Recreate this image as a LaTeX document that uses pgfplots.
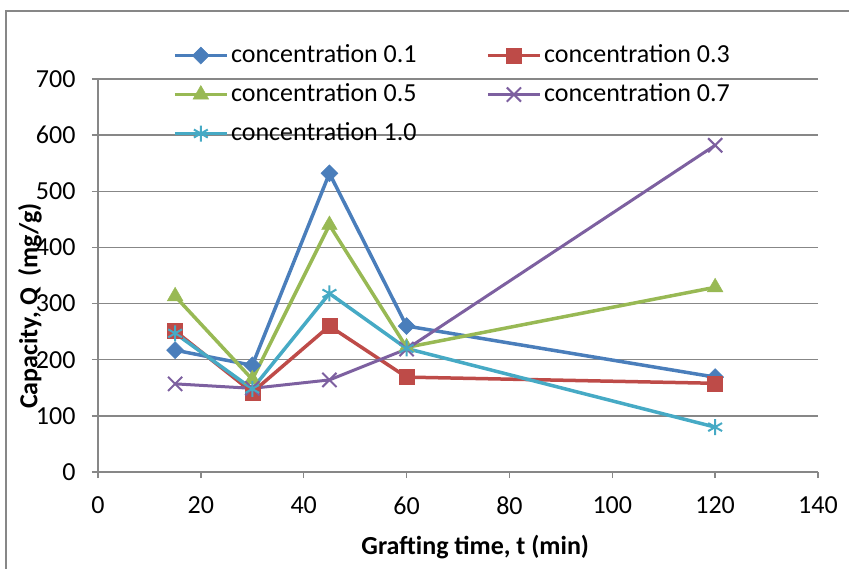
\documentclass[border=0pt]{standalone}
\usepackage{fontspec}
\setmainfont{Carlito}
\usepackage{pgfplots}
\pgfplotsset{compat=1.18}
\definecolor{gridgray}{HTML}{878787}
\definecolor{cblue}{HTML}{4A7EBB}
\definecolor{cred}{HTML}{BE4B48}
\definecolor{cgreen}{HTML}{98B954}
\definecolor{cpurple}{HTML}{7D60A0}
\definecolor{ccyan}{HTML}{46AAC5}
\begin{document}
\begin{tikzpicture}
\path[use as bounding box] (0bp,0bp) rectangle (849bp,569bp);
\draw[gridgray, line width=1.5bp] (6bp,0bp) -- (6bp,558bp) -- (849bp,558bp);
\begin{axis}[
  at={(98bp,97bp)}, anchor=south west,
  scale only axis, width=720bp, height=393bp,
  xmin=0, xmax=140, ymin=0, ymax=700,
  xtick={0,20,...,140}, ytick={0,100,...,700},
  ymajorgrids,
  major grid style={draw=gridgray, line width=1.4bp},
  axis x line*=bottom, axis y line*=left,
  axis line style={draw=gridgray, line width=1.4bp, -},
  major tick style={draw=gridgray, line width=1.4bp},
  tick align=outside, major tick length=6bp,
  /pgf/number format/assume math mode=true,
  ticklabel style={font=\fontsize{26bp}{30bp}\selectfont, black},
  yticklabel style={xshift=-13bp},
  xticklabel style={yshift=-15bp},
  clip=false,
  xlabel={\textbf{Grafting time, t (min)}},
  ylabel={\textbf{Capacity, Q\ \ (mg/g)}},
  every axis x label/.style={at={(axis description cs:0.524,-0.191)}, anchor=center, font=\fontsize{26bp}{30bp}\selectfont},
  every axis y label/.style={at={(axis description cs:-0.0944,0.4224)}, anchor=center, rotate=90, font=\fontsize{26bp}{30bp}\selectfont},
  legend columns=2,
  legend cell align=left,
  legend style={at={(axis description cs:0.104,1.092)}, anchor=north west, draw=none, fill=none,
    inner sep=0pt, font=\fontsize{26bp}{30bp}\selectfont,
    nodes={inner xsep=2.5bp, inner ysep=2bp, text height=17bp, text depth=4bp},
    row sep=14bp,
    /tikz/every even column/.append style={column sep=67bp}},
  legend image code/.code={\draw[mark repeat=2,mark phase=2,#1] plot coordinates {(0bp,0bp) (26bp,0bp) (52bp,0bp)};},
  every axis plot/.append style={line width=3.5bp},
]
\addplot[cblue, mark=square*, mark size=6bp, mark options={rotate=45, line width=0.5bp}]
  coordinates {(15,217) (30,190) (45,532) (60,260) (120,169)};
\addlegendentry{concentration 0.1}
\addplot[cred, mark=square*, mark size=7.5bp, mark options={line width=0.5bp}]
  coordinates {(15,251) (30,142) (45,260) (60,169) (120,158)};
\addlegendentry{concentration 0.3}
\addplot[cgreen, mark=triangle*, mark size=9bp, mark options={line width=0.5bp}]
  coordinates {(15,313) (30,165) (45,440) (60,222) (120,329)};
\addlegendentry{concentration 0.5}
\addplot[cpurple, line width=3bp, mark=x, mark size=10bp, mark options={line width=2bp}]
  coordinates {(15,157) (30,149) (45,164) (60,219) (120,582)};
\addlegendentry{concentration 0.7}
\addplot[ccyan, mark=asterisk, mark size=8bp, mark options={line width=2bp}]
  coordinates {(15,247) (30,148) (45,318) (60,220) (120,80)};
\addlegendentry{concentration 1.0}
\end{axis}
\end{tikzpicture}
\end{document}
